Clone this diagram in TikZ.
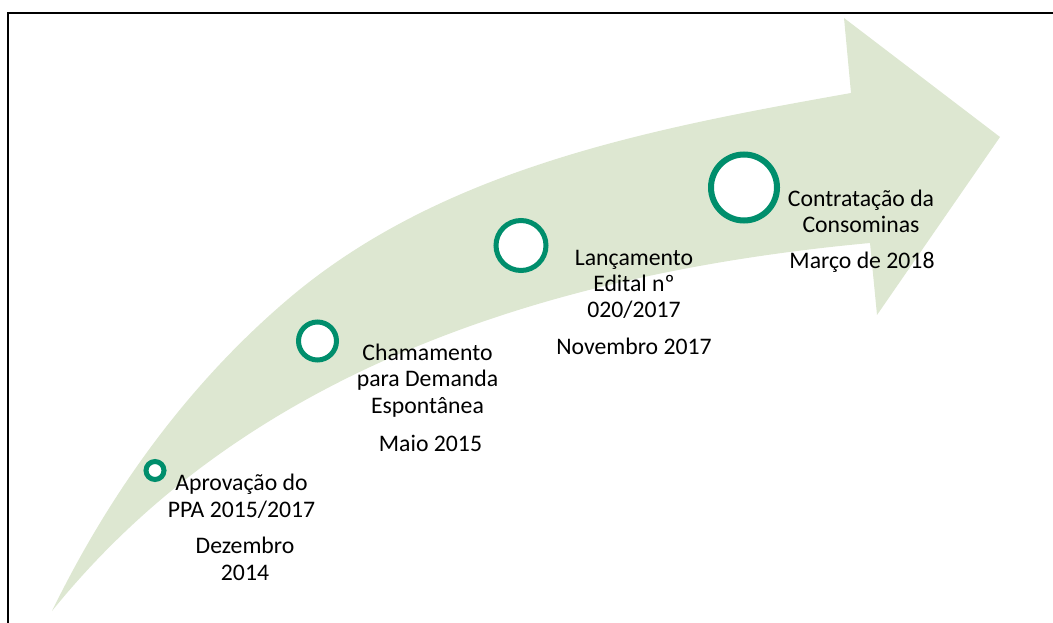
\documentclass[tikz,border=0pt]{standalone}
\usepackage{fontspec}
\setmainfont{Carlito}
\definecolor{arrowfill}{RGB}{221,231,209}
\definecolor{ring}{RGB}{0,142,108}
\tikzset{
  milestone/.style={circle, draw=ring, fill=white, inner sep=0pt},
  evtext/.style={align=center, anchor=base, inner sep=0pt,
    font=\fontsize{17.8pt}{19.6pt}\selectfont},
  frameline/.style={line width=1.5pt, draw=black},
  bigarrow/.style={fill=arrowfill}
}
\begin{document}
\begin{tikzpicture}[x=0.75pt,y=-0.75pt]
\useasboundingbox (0,0) rectangle (1053,623);
\clip (0,0) rectangle (1053,623);
% frame (only top and left edges lie inside the picture)
\draw[frameline] (7.7,660) -- (7.7,12.7) -- (1080,12.7);
% curved arrow
\fill[bigarrow] (52,611)
  .. controls (118,476) and (201,372) .. (293,295)
  .. controls (447,167) and (654,128) .. (851,93)
  -- (844,18) -- (1000,137) -- (877,315) -- (870,243)
  .. controls (491.5,278) and (222,400.4) .. (52,611) -- cycle;
% milestones
\node[milestone, minimum size=13.5pt, line width=3.75pt] (c1) at (155,470.5) {};
\node[milestone, minimum size=28.5pt, line width=3.75pt] (c2) at (317.5,341) {};
\node[milestone, minimum size=37.5pt, line width=3.75pt] (c3) at (521,245.5) {};
\node[milestone, minimum size=49.5pt, line width=4.5pt] (c4) at (744,187.5) {};
% texts (base anchor = baseline of the last line)
\node[evtext] (t1) at (241.5,517) {Aprovação do\\PPA 2015/2017};
\node[evtext] (d1) at (245,580) {Dezembro\\2014};
\node[evtext] (t2) at (427.5,413) {Chamamento\\para Demanda\\Espontânea};
\node[evtext] (d2) at (430.5,451) {Maio 2015};
\node[evtext] (t3) at (634,318) {Lançamento\\Edital nº\\020/2017};
\node[evtext] (d3) at (634,355) {Novembro 2017};
\node[evtext] (t4) at (861,233) {Contratação da\\Consominas};
\node[evtext] (d4) at (862,269) {Março de 2018};
\end{tikzpicture}
\end{document}
